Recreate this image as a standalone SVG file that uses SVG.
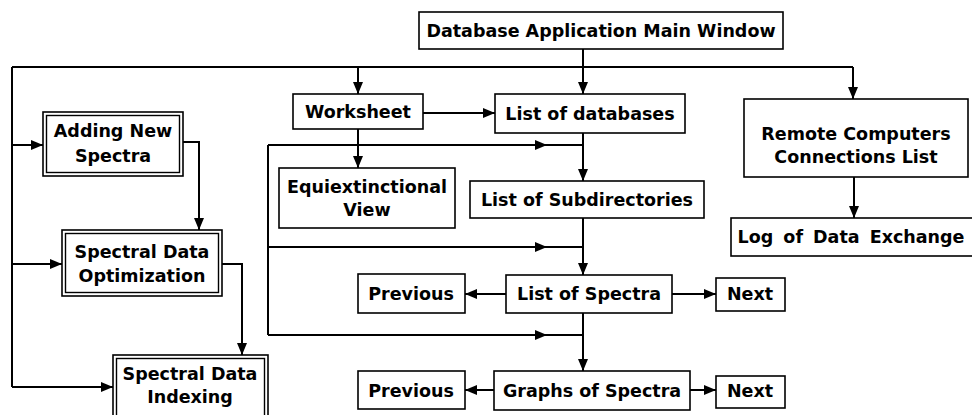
<svg xmlns="http://www.w3.org/2000/svg" width="972" height="415" viewBox="0 0 972 415">
  <defs>
    <marker id="arr" viewBox="0 0 12 10" refX="12" refY="5" markerWidth="12" markerHeight="10" markerUnits="userSpaceOnUse" orient="auto">
      <path d="M0,0 L12,5 L0,10 Z" fill="#000"/>
    </marker>
    <marker id="mid" viewBox="0 0 12 10" refX="6" refY="5" markerWidth="12" markerHeight="10" markerUnits="userSpaceOnUse" orient="auto">
      <path d="M0,0 L12,5 L0,10 Z" fill="#000"/>
    </marker>
  </defs>
  <style>
    .box { fill: #fff; stroke: #000; stroke-width: 1.6; }
    .inner { fill: none; stroke: #000; stroke-width: 1.4; }
    .lbl { font-family: "DejaVu Sans", Verdana, sans-serif; font-weight: bold; font-size: 17.5px; fill: #000; text-anchor: middle; }
    .ln { fill: none; stroke: #000; stroke-width: 2; }
    .a { marker-end: url(#arr); }
    .m { marker-mid: url(#mid); }
  </style>
  <rect width="972" height="415" fill="#fff"/>

  <!-- connectors -->
  <g id="connectors">
    <!-- main window trunk -->
    <path class="ln a" d="M583,49 V94"/>
    <path class="ln" d="M12,67 H853"/>
    <path class="ln a" d="M358,67 V94"/>
    <path class="ln a" d="M853,67 V99"/>
    <path class="ln a" d="M854,177 V218"/>
    <!-- left column -->
    <path class="ln" d="M12,67 V387"/>
    <path class="ln a" d="M12,145 H43"/>
    <path class="ln a" d="M12,264 H62"/>
    <path class="ln a" d="M12,387 H113"/>
    <path class="ln a" d="M183,142 H199 V230"/>
    <path class="ln a" d="M222,264 H242 V355"/>
    <!-- worksheet -->
    <path class="ln a" d="M423,113 H495"/>
    <path class="ln a" d="M358,129 V168"/>
    <!-- central spine -->
    <path class="ln a" d="M583,133 V181"/>
    <path class="ln a" d="M583,218 V275"/>
    <path class="ln a" d="M583,313 V371"/>
    <path class="ln" d="M268,145 V335"/>
    <path class="ln m" d="M268,145 L541,145 L583,145"/>
    <path class="ln m" d="M268,247 L541,247 L583,247"/>
    <path class="ln m" d="M268,335 L541,335 L583,335"/>
    <!-- previous / next -->
    <path class="ln a" d="M506,294 H465"/>
    <path class="ln a" d="M672,294 H716"/>
    <path class="ln a" d="M494,390 H465"/>
    <path class="ln a" d="M690,390 H716"/>
  </g>

  <g id="main-window">
    <rect class="box" x="419" y="12" width="364" height="37"/>
    <text class="lbl" x="601" y="37">Database Application Main Window</text>
  </g>
  <g id="worksheet">
    <rect class="box" x="293" y="94" width="130" height="35"/>
    <text class="lbl" x="358" y="118">Worksheet</text>
  </g>
  <g id="list-of-databases">
    <rect class="box" x="495" y="94" width="190" height="39"/>
    <text class="lbl" x="590" y="120">List of databases</text>
  </g>
  <g id="remote-computers">
    <rect class="box" x="744" y="99" width="224" height="78"/>
    <text class="lbl" x="856" y="140">Remote Computers</text>
    <text class="lbl" x="856" y="163">Connections List</text>
  </g>
  <g id="log-of-data-exchange">
    <rect class="box" x="731" y="218" width="243" height="38"/>
    <text class="lbl" x="851" y="243" word-spacing="4">Log of Data Exchange</text>
  </g>
  <g id="adding-new-spectra">
    <rect class="box" x="43" y="112" width="140" height="64"/>
    <rect class="inner" x="46.5" y="115.5" width="133" height="57"/>
    <text class="lbl" x="113" y="137">Adding New</text>
    <text class="lbl" x="113" y="162">Spectra</text>
  </g>
  <g id="spectral-data-optimization">
    <rect class="box" x="62" y="230" width="160" height="66"/>
    <rect class="inner" x="65.5" y="233.5" width="153" height="59"/>
    <text class="lbl" x="142" y="258">Spectral Data</text>
    <text class="lbl" x="142" y="282">Optimization</text>
  </g>
  <g id="spectral-data-indexing">
    <rect class="box" x="113" y="355" width="155" height="66"/>
    <rect class="inner" x="116.5" y="358.5" width="148" height="59"/>
    <text class="lbl" x="190" y="380">Spectral Data</text>
    <text class="lbl" x="190" y="403">Indexing</text>
  </g>
  <g id="equiextinctional-view">
    <rect class="box" x="279" y="168" width="176" height="60"/>
    <text class="lbl" x="367" y="193">Equiextinctional</text>
    <text class="lbl" x="367" y="216">View</text>
  </g>
  <g id="list-of-subdirectories">
    <rect class="box" x="470" y="181" width="234" height="37"/>
    <text class="lbl" x="587" y="206">List of Subdirectories</text>
  </g>
  <g id="list-of-spectra">
    <rect class="box" x="506" y="275" width="166" height="38"/>
    <text class="lbl" x="589" y="300">List of Spectra</text>
  </g>
  <g id="previous-1">
    <rect class="box" x="358" y="274" width="107" height="39"/>
    <text class="lbl" x="411" y="300">Previous</text>
  </g>
  <g id="next-1">
    <rect class="box" x="716" y="278" width="69" height="33"/>
    <text class="lbl" x="750" y="300">Next</text>
  </g>
  <g id="graphs-of-spectra">
    <rect class="box" x="494" y="371" width="196" height="39"/>
    <text class="lbl" x="592" y="397">Graphs of Spectra</text>
  </g>
  <g id="previous-2">
    <rect class="box" x="358" y="371" width="107" height="38"/>
    <text class="lbl" x="411" y="397">Previous</text>
  </g>
  <g id="next-2">
    <rect class="box" x="716" y="376" width="69" height="32"/>
    <text class="lbl" x="750" y="397">Next</text>
  </g>
</svg>
